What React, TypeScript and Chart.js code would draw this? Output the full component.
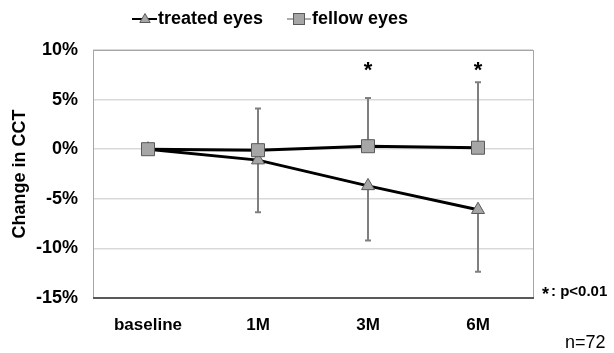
import React, { useEffect, useRef } from "react";
import { Chart, registerables } from "chart.js";

Chart.register(...registerables);

const categories = ["baseline", "1M", "3M", "6M"];
const treatedEyes = [0, -1.1, -3.7, -6.1];
const treatedErrLow = [0, 5.25, 5.5, 6.25];
const fellowEyes = [0, -0.1, 0.3, 0.15];
const fellowErrHigh = [0, 4.2, 4.85, 6.6];
const significance = ["", "", "*", "*"];
const significanceY = 8.3;
const yMin = -15;
const yMax = 10;
const yStep = 5;
const seriesNames = ["treated eyes", "fellow eyes"];
const noteText = ": p<0.01";
const sampleText = "n=72";

const FONT = "'Liberation Sans', Arial, sans-serif";
const MARKER_FILL = "#a6a6a6";
const MARKER_BORDER = "#595959";
const ERR_COLOR = "#7f7f7f";

function drawTriangle(ctx: CanvasRenderingContext2D, x: number, y: number, r: number) {
  ctx.beginPath();
  ctx.moveTo(x, y - r);
  ctx.lineTo(x + r * 0.866, y + r * 0.5);
  ctx.lineTo(x - r * 0.866, y + r * 0.5);
  ctx.closePath();
  ctx.fillStyle = MARKER_FILL;
  ctx.fill();
  ctx.strokeStyle = MARKER_BORDER;
  ctx.lineWidth = 1;
  ctx.stroke();
}

function drawSquare(ctx: CanvasRenderingContext2D, x: number, y: number, s: number) {
  ctx.fillStyle = MARKER_FILL;
  ctx.fillRect(x - s / 2, y - s / 2, s, s);
  ctx.strokeStyle = MARKER_BORDER;
  ctx.lineWidth = 1;
  ctx.strokeRect(x - s / 2, y - s / 2, s, s);
}

const customPlugin = {
  id: "custom",
  beforeDatasetsDraw(chart: any) {
    const { ctx, chartArea: a, scales } = chart;
    const xs = scales.x;
    const ys = scales.y;
    ctx.save();
    // plot border
    ctx.strokeStyle = "#a6a6a6";
    ctx.lineWidth = 1;
    ctx.strokeRect(a.left + 0.5, a.top + 0.5, a.right - a.left, a.bottom - a.top);
    ctx.strokeStyle = "#595959";
    ctx.lineWidth = 2;
    ctx.beginPath();
    ctx.moveTo(a.left, a.bottom);
    ctx.lineTo(a.right + 1, a.bottom);
    ctx.stroke();
    // error bars
    ctx.strokeStyle = ERR_COLOR;
    ctx.lineWidth = 2;
    const cap = 3;
    categories.forEach((_, i) => {
      const x = xs.getPixelForValue(i);
      if (fellowErrHigh[i] > 0) {
        const y0 = ys.getPixelForValue(fellowEyes[i]);
        const y1 = ys.getPixelForValue(fellowEyes[i] + fellowErrHigh[i]);
        ctx.beginPath();
        ctx.moveTo(x, y0);
        ctx.lineTo(x, y1);
        ctx.moveTo(x - cap, y1);
        ctx.lineTo(x + cap, y1);
        ctx.stroke();
      }
      if (treatedErrLow[i] > 0) {
        const y0 = ys.getPixelForValue(treatedEyes[i]);
        const y1 = ys.getPixelForValue(treatedEyes[i] - treatedErrLow[i]);
        ctx.beginPath();
        ctx.moveTo(x, y0);
        ctx.lineTo(x, y1);
        ctx.moveTo(x - cap, y1);
        ctx.lineTo(x + cap, y1);
        ctx.stroke();
      }
    });
    ctx.restore();
  },
  afterDraw(chart: any) {
    const { ctx, chartArea: a, scales } = chart;
    const xs = scales.x;
    const ys = scales.y;
    ctx.save();
    // significance asterisks
    ctx.fillStyle = "#000";
    ctx.font = `bold 22px ${FONT}`;
    ctx.textAlign = "center";
    ctx.textBaseline = "middle";
    significance.forEach((s, i) => {
      if (!s) return;
      ctx.fillText(s, xs.getPixelForValue(i), ys.getPixelForValue(significanceY) + 4);
    });
    // legend
    ctx.textAlign = "left";
    ctx.textBaseline = "middle";
    ctx.font = `bold 18px ${FONT}`;
    const ly = 19;
    ctx.strokeStyle = "#000";
    ctx.lineWidth = 2;
    ctx.beginPath();
    ctx.moveTo(132, ly);
    ctx.lineTo(157, ly);
    ctx.stroke();
    drawTriangle(ctx, 145, ly + 0.5, 6);
    ctx.fillStyle = "#000";
    ctx.fillText(seriesNames[0], 158, ly);
    ctx.beginPath();
    ctx.moveTo(287, ly);
    ctx.lineTo(311, ly);
    ctx.stroke();
    drawSquare(ctx, 299, ly, 11);
    ctx.fillStyle = "#000";
    ctx.fillText(seriesNames[1], 312, ly);
    // note
    ctx.font = `bold 18px ${FONT}`;
    ctx.fillText("*", a.right + 9, a.bottom - 3);
    ctx.font = `bold 15px ${FONT}`;
    ctx.fillText(noteText, a.right + 18, a.bottom - 6);
    ctx.font = `18px ${FONT}`;
    ctx.fillText(sampleText, 565, 343);
    ctx.restore();
  },
};

export default function App() {
  const ref = useRef<HTMLCanvasElement>(null);
  useEffect(() => {
    if (!ref.current) return;
    const chart = new Chart(ref.current, {
      type: "line",
      data: {
        labels: categories,
        datasets: [
          {
            label: seriesNames[0],
            data: treatedEyes,
            order: 1,
            borderColor: "#000",
            borderWidth: 3,
            pointStyle: "triangle",
            pointRadius: 7.5,
            pointBackgroundColor: MARKER_FILL,
            pointBorderColor: MARKER_BORDER,
            pointBorderWidth: 1,
            tension: 0,
          },
          {
            label: seriesNames[1],
            data: fellowEyes,
            order: 0,
            borderColor: "#000",
            borderWidth: 3,
            pointStyle: "rect",
            pointRadius: 9.2,
            pointBackgroundColor: MARKER_FILL,
            pointBorderColor: MARKER_BORDER,
            pointBorderWidth: 1,
            tension: 0,
          },
        ],
      },
      options: {
        responsive: false,
        animation: false,
        devicePixelRatio: 1,
        layout: { padding: { left: 0, top: 50, right: 81, bottom: 0 } },
        plugins: { legend: { display: false }, tooltip: { enabled: false } },
        scales: {
          x: {
            offset: true,
            grid: { display: false, drawTicks: false },
            border: { display: false },
            ticks: { color: "#000", font: { family: FONT, size: 17, weight: "bold" }, padding: 17 },
            afterFit: (s: any) => {
              s.height = 55;
            },
          },
          y: {
            min: yMin,
            max: yMax,
            ticks: {
              stepSize: yStep,
              color: "#000",
              font: { family: FONT, size: 18, weight: "bold" },
              padding: 15,
              callback: (v: any) => `${v}%`,
            },
            grid: { color: "#d9d9d9", lineWidth: 1.5, drawTicks: false },
            border: { display: false },
            title: {
              display: true,
              text: "Change in CCT",
              color: "#000",
              font: { family: FONT, size: 18, weight: "bold" },
              padding: { top: 9, bottom: 0 },
            },
            afterFit: (s: any) => {
              s.width = 93;
            },
          },
        },
      },
      plugins: [customPlugin],
    });
    return () => chart.destroy();
  }, []);
  return (
    <div style={{ position: "fixed", left: 0, top: 0, width: 614, height: 353, background: "#fff" }}>
      <canvas ref={ref} width={614} height={353} />
    </div>
  );
}
